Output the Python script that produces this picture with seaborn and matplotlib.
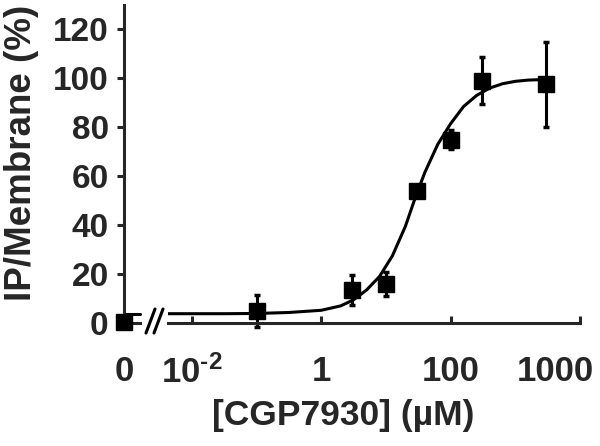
import numpy as np
import pandas as pd
import seaborn as sns
import matplotlib.pyplot as plt
from matplotlib.ticker import FixedLocator
from matplotlib.lines import Line2D

# measured points (uM, % IP/membrane, error)
conc = [0.1, 3, 10, 30, 100, 300, 3000]
resp = [5.0, 13.5, 16.0, 54.0, 75.0, 99.0, 97.5]
err = [6.5, 6.0, 5.0, 1.5, 4.0, 9.6, 17.3]
zero_resp = [0.5]
zero_err = [0.0]

# fitted curve (log10 uM, %)
curve_logx = [-2.37, -1.5, -1.0, -0.5, 0.0, 0.3, 0.5, 0.7, 0.9, 1.1, 1.3, 1.45,
              1.6, 1.8, 2.0, 2.2, 2.4, 2.6, 2.8, 3.0, 3.2, 3.5]
curve_y = [3.8, 3.8, 3.9, 4.3, 5.2, 7.0, 9.5, 13.5, 19.0, 27.5, 39.5, 51.0,
           61.5, 73.0, 81.5, 88.5, 93.0, 96.0, 97.8, 98.8, 99.3, 99.6]
zero_curve = [3.8, 3.8]

xtick_pos = [1e-2, 1, 1e2, 1e4]
xtick_lab = [r'$10^{\text{-2}}$', '1', '100', '']
extra_lab_pos = [10 ** 3.62]
extra_lab = ['1000']
yticks = [0, 20, 40, 60, 80, 100, 120]

sns.set_style('ticks')
plt.rcParams['font.family'] = ['Liberation Sans', 'DejaVu Sans']
plt.rcParams['font.weight'] = 'bold'
plt.rcParams['mathtext.fontset'] = 'custom'
plt.rcParams['mathtext.rm'] = 'Liberation Sans:bold'
plt.rcParams['mathtext.it'] = 'Liberation Sans:bold'
plt.rcParams['mathtext.bf'] = 'Liberation Sans:bold'

W, H = 600, 446
fig = plt.figure(figsize=(6, 4.46), dpi=100)
lw = 2.2
bot = (H - 323) / H
hgt = 318 / H
ax0 = fig.add_axes([124 / W, bot, 16 / W, hgt])
ax1 = fig.add_axes([168 / W, bot, 412 / W, hgt], sharey=ax0)

df = pd.DataFrame({'x': 10 ** np.array(curve_logx), 'y': curve_y})
sns.lineplot(data=df, x='x', y='y', ax=ax1, color='black', lw=lw, sort=False)
ax1.errorbar(conc, resp, yerr=err, fmt='s', color='black', ms=11, elinewidth=lw,
             capsize=2.5, capthick=2.5, clip_on=False)
ax1.set_xscale('log')
ax1.set_xlim(10 ** -2.37, 1e4)

ax0.plot([0, 1], zero_curve, color='black', lw=lw, clip_on=False)
ax0.errorbar([0], zero_resp, yerr=zero_err, fmt='s', color='black', ms=11,
             clip_on=False, zorder=5)
ax0.set_xlim(0, 1)
ax0.set_ylim(0, 130)

for ax in (ax0, ax1):
    for s in ('top', 'right'):
        ax.spines[s].set_visible(False)
    for s in ('left', 'bottom'):
        ax.spines[s].set_linewidth(lw)
    ax.set_xlabel('')
    ax.set_ylabel('')
ax1.spines['left'].set_visible(False)
ax1.tick_params(axis='y', left=False, labelleft=False)

ax0.set_yticks(yticks)
ax0.tick_params(axis='y', direction='out', length=5, width=lw, labelsize=24, pad=6)
ax0.set_xticks([0])
ax0.set_xticklabels(['0'])
ax0.tick_params(axis='x', direction='in', length=0, labelsize=25, pad=23)

ax1.xaxis.set_major_locator(FixedLocator(xtick_pos))
ax1.set_xticklabels(xtick_lab)
ax1.xaxis.set_minor_locator(FixedLocator(extra_lab_pos))
ax1.set_xticklabels(extra_lab, minor=True)
ax1.tick_params(axis='x', which='major', direction='in', length=5, width=lw,
                labelsize=25, pad=23)
ax1.tick_params(axis='x', which='minor', length=0, labelsize=25, pad=23)

# axis break marks
for x0 in (146, 154):
    fig.add_artist(Line2D([x0 / W, (x0 + 9) / W], [(H - 333) / H, (H - 309) / H],
                          color='black', lw=lw, transform=fig.transFigure))

fig.text(343 / W, (H - 416) / H, '[CGP7930] (\u00b5M)', ha='center', va='center',
         fontsize=25.5, fontweight='bold')
fig.text(22 / W, (H - 153) / H, 'IP/Membrane (%)', ha='center', va='center',
         rotation=90, fontsize=26.5, fontweight='bold')

fig.savefig('out.png', dpi=100, facecolor='white')
